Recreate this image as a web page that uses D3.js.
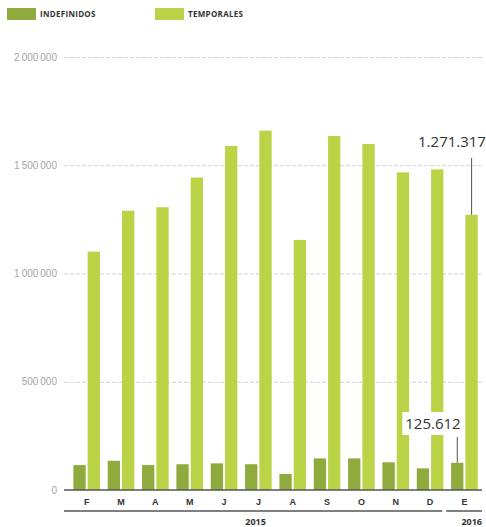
<!DOCTYPE html>
<html>
<head>
<meta charset="utf-8">
<script src="https://cdn.jsdelivr.net/npm/d3@7"></script>
<style>
	body { margin: 0; background: #fff; }
	svg { display: block; font-family: "Open Sans", "DejaVu Sans", sans-serif; }
	.grid line { stroke: #c8c8c8; stroke-dasharray: 4 2; stroke-width: 0.8; }
	.grid text { fill: #a5a5a5; font-size: 10px; }
	.months text { fill: #333; font-size: 9px; font-weight: bold; }
	.base { stroke: #555; stroke-width: 1.5; }
	.year { fill: #333; font-size: 9px; font-weight: bold; }
	.legend text { fill: #333; font-size: 8px; font-weight: bold; letter-spacing: 0.3px; }
	.note { fill: #333; }
</style>
</head>
<body>
<svg id="chart" width="486" height="527"></svg>
<script>
const MONTHS = ['F', 'M', 'A', 'M', 'J', 'J', 'A', 'S', 'O', 'N', 'D', 'E'];
const INDEFINIDOS = [115000, 135000, 115000, 119000, 123000, 119000, 74000, 146000, 146000, 128000, 100000, 125612];
const TEMPORALES = [1101000, 1290000, 1306000, 1443000, 1589000, 1660000, 1155000, 1635000, 1598000, 1467000, 1481000, 1271317];
const Y_TICKS = [0, 500000, 1000000, 1500000, 2000000];
const YEARS = [{ label: '2015', from: 0, to: 10 }, { label: '2016', from: 11, to: 11 }];
const SERIES = ['INDEFINIDOS', 'TEMPORALES'];
const COLORS = ['#8fab3d', '#bbd347'];

const svg = d3.select('#chart');

const x = d3.scaleBand()
	.domain(d3.range(MONTHS.length))
	.range([69.5, 481.6]);

const xSub = d3.scaleBand()
	.domain(SERIES)
	.range([0, x.bandwidth()])
	.paddingInner(0.14)
	.paddingOuter(0.27);

const y = d3.scaleLinear()
	.domain([0, 2000000])
	.range([490, 57]);

const spaced = d3.formatLocale({ decimal: ',', thousands: '\u2009', grouping: [3], currency: ['', ''] }).format(',d');

// grid + y labels
const grid = svg.append('g')
	.attr('class', 'grid')
	.attr('transform', 'translate(64,0)')
	.call(d3.axisLeft(y).tickValues(Y_TICKS).tickSize(-418).tickPadding(7).tickFormat(spaced));
grid.select('.domain').remove();
grid.selectAll('.tick').filter(d => d === 0).select('line').remove();

// bars
const data = MONTHS.map((m, i) => ({ i: i, m: m, values: [INDEFINIDOS[i], TEMPORALES[i]] }));

const groups = svg.append('g')
	.selectAll('g')
	.data(data)
	.enter()
	.append('g')
		.attr('transform', d => `translate(${x(d.i)},0)`);

groups.selectAll('rect')
	.data(d => d.values.map((v, k) => ({ key: SERIES[k], value: v, k: k })))
	.enter()
	.append('rect')
		.attr('x', d => xSub(d.key))
		.attr('width', xSub.bandwidth())
		.attr('y', d => y(d.value))
		.attr('height', d => y(0) - y(d.value))
		.attr('fill', d => COLORS[d.k]);

// base axis
svg.append('line')
	.attr('class', 'base')
	.attr('x1', 64).attr('x2', 482)
	.attr('y1', y(0)).attr('y2', y(0));

const months = svg.append('g')
	.attr('class', 'months')
	.attr('transform', `translate(0,${y(0)})`)
	.call(d3.axisBottom(x).tickSize(0).tickPadding(9).tickFormat(i => MONTHS[i]));
months.select('.domain').remove();

// years
const years = svg.append('g');
years.selectAll('line')
	.data(YEARS)
	.enter()
	.append('line')
		.attr('class', 'base')
		.attr('x1', d => d.from === 0 ? 64 : x(d.from) - 1)
		.attr('x2', d => d.to === MONTHS.length - 1 ? 482 : x(d.to) + x.bandwidth() - 5)
		.attr('y1', 511).attr('y2', 511);
years.selectAll('text')
	.data(YEARS)
	.enter()
	.append('text')
		.attr('class', 'year')
		.attr('text-anchor', d => d.from === 0 ? 'middle' : 'end')
		.attr('x', d => d.from === 0 ? (64 + x(d.to) + x.bandwidth()) / 2 : 482)
		.attr('y', 525)
		.text(d => d.label);

// legend
const legend = svg.append('g')
	.attr('class', 'legend')
	.selectAll('g')
	.data(SERIES)
	.enter()
	.append('g')
		.attr('transform', (d, k) => `translate(${7 + k * 148},8)`);
legend.append('rect')
	.attr('width', 29).attr('height', 12)
	.attr('fill', (d, k) => COLORS[k]);
legend.append('text')
	.attr('x', 33).attr('y', 9)
	.text(d => d);

// annotations for the last month
const last = MONTHS.length - 1;
const fmtDot = d3.formatLocale({ decimal: ',', thousands: '.', grouping: [3], currency: ['', ''] }).format(',d');

const notes = [
	{ k: 0, value: INDEFINIDOS[last], textX: 433, textY: 429, lineTop: 437 },
	{ k: 1, value: TEMPORALES[last], textX: 452, textY: 147, lineTop: 158 }
];

notes.forEach(n => {
	const cx = x(last) + xSub(SERIES[n.k]) + xSub.bandwidth() / 2;
	const t = svg.append('text')
		.attr('class', 'note')
		.attr('text-anchor', 'middle')
		.attr('x', n.textX)
		.attr('y', n.textY)
		.attr('font-size', 15)
		.text(fmtDot(n.value));
	const bb = t.node().getBBox();
	svg.insert('rect', '.note')
		.attr('x', bb.x - 3).attr('y', bb.y - 1)
		.attr('width', bb.width + 6).attr('height', bb.height + 3)
		.attr('fill', '#fff');
	svg.append('line')
		.attr('x1', cx).attr('x2', cx)
		.attr('y1', n.lineTop).attr('y2', y(n.value))
		.attr('stroke', '#555').attr('stroke-width', 1);
});
</script>
</body>
</html>
